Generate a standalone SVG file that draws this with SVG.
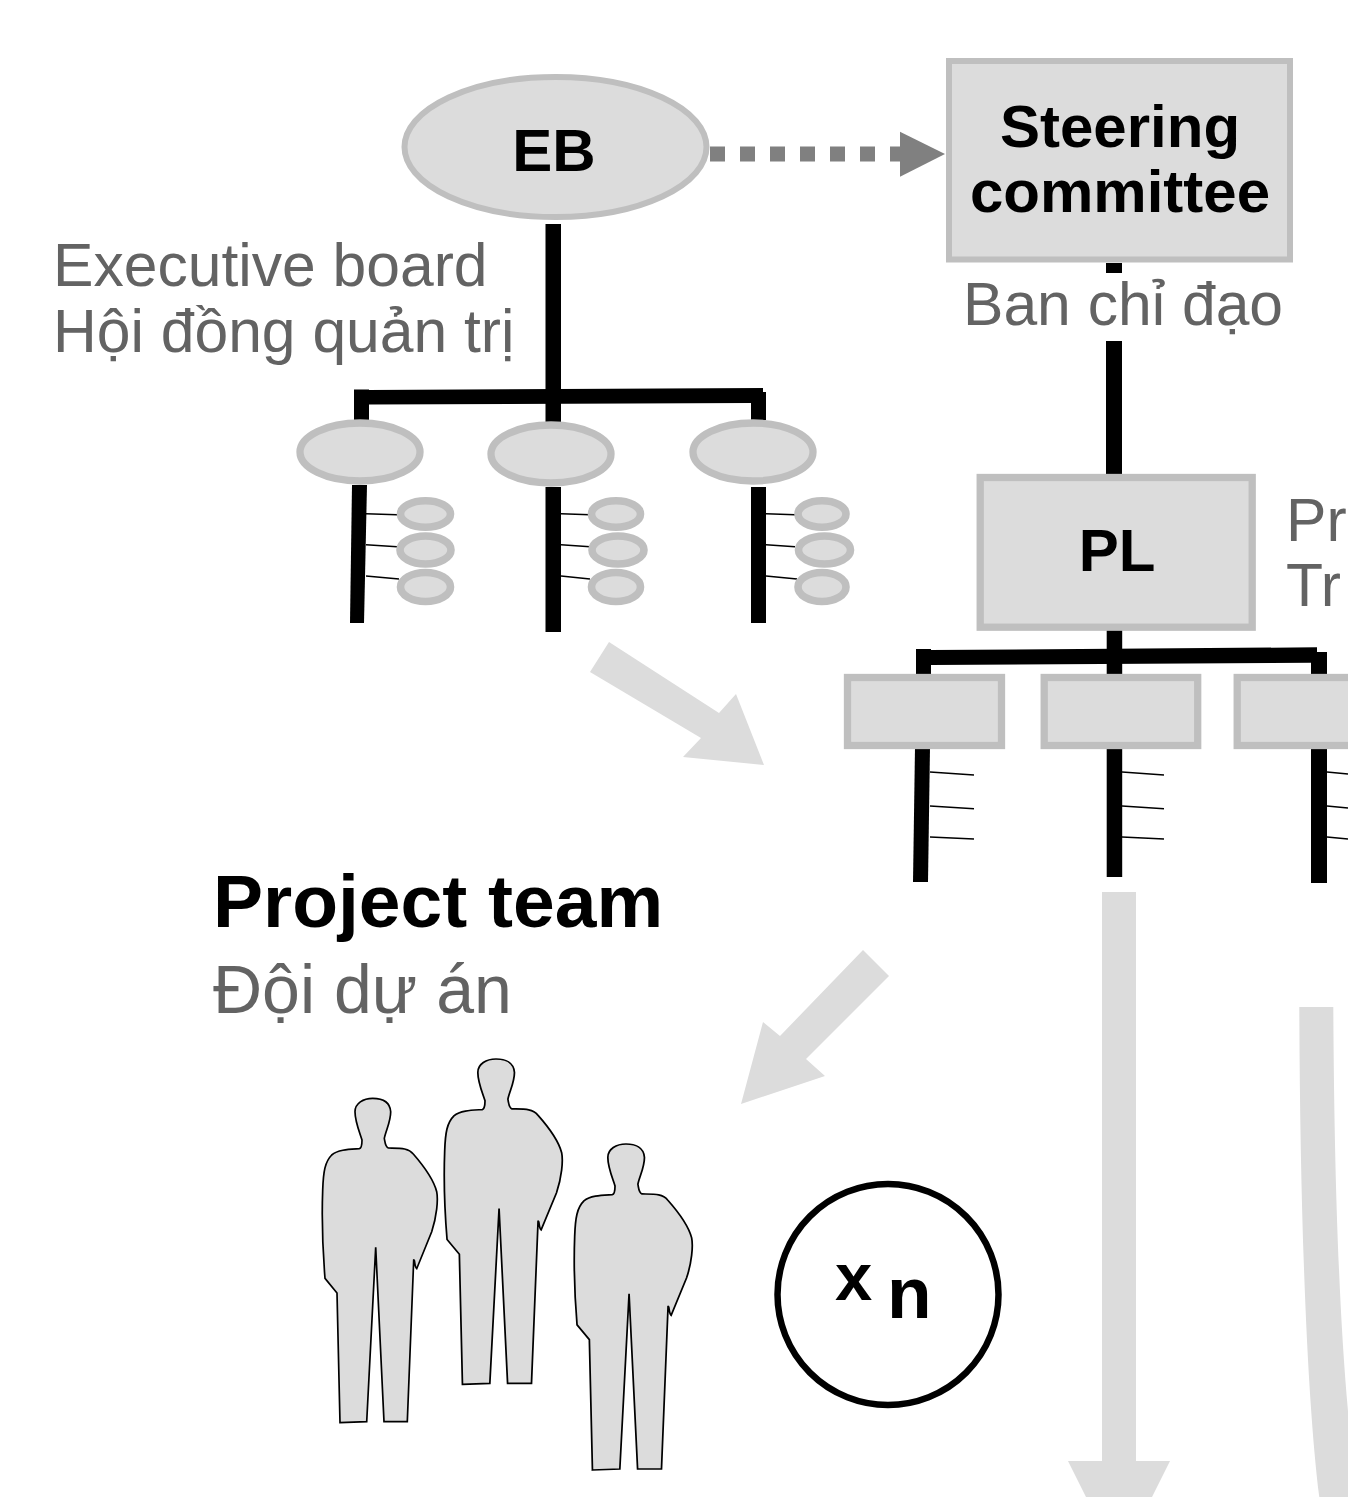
<svg xmlns="http://www.w3.org/2000/svg" width="1348" height="1497" viewBox="0 0 1348 1497">
<style>
text{font-family:"Liberation Sans",Arial,sans-serif;font-size:60px}
.b{font-weight:700;fill:#000}
.g{fill:#636363;font-size:60.6px}
.m{text-anchor:middle}
.n{fill:#dcdcdc;stroke:#bfbfbf;stroke-width:7.3}
.r{fill:#dcdcdc;stroke:#bfbfbf;stroke-width:6}
.s{fill:#dcdcdc;stroke:#bfbfbf;stroke-width:7.600}
.k{fill:#000;stroke:none}
.t{stroke:#000;stroke-width:1.5;fill:none}
.a{fill:#dcdcdc;stroke:none}
.p{fill:#dcdcdc;stroke:#000;stroke-width:1.700;stroke-linejoin:miter}
</style>
<defs>
<path id="person" d="M340,1422.7 L366.7,1421.7 L375.7,1247.3 L384,1421.7 L407.3,1421.7 L413.7,1260 C415,1259.3 414.3,1266.7 416.7,1268.7 L431.7,1231.7 C436.7,1216.7 438.3,1200 436.7,1191.7 C433.3,1178.3 420,1161.7 413.3,1154 C408.3,1147.7 400,1148.3 388.3,1148 C385,1146.7 385,1141.7 384.3,1138.3 C386,1130 390.7,1121.7 390.7,1111.7 C390,1101.7 381.7,1098.3 372.7,1098.3 C363.3,1098.3 355,1103.3 355,1111.7 C355,1121.7 360,1133.3 362,1140 C362,1145 361,1148.3 359.3,1148.7 C350,1149.3 338.3,1149.3 331.7,1155 C325,1161.7 323.3,1171.7 322.7,1190 C321.7,1216.7 322.7,1250 325,1278.3 L337,1293 Z"/>
</defs>
<g id="connectors">
<polygon class="a" points="609,642 719,713 736,694 764,765 683,757 701,738 590,672"/>
<polygon class="a" points="863,950 889,976 806,1059 825,1076 741,1104 763,1022 780,1036"/>
<polygon class="a" points="1102,892 1136,892 1136,1461 1170,1461 1152,1497 1086,1497 1068,1461 1102,1461"/>
<path class="a" d="M1299.3,1007 L1333.3,1007 C1334,1130 1337,1290 1348,1411 L1348,1497 L1319.3,1497 C1306,1390 1300,1200 1299.3,1007 Z"/>
<path d="M710,154 H900" fill="none" stroke="#808080" stroke-width="15" stroke-dasharray="15 15"/>
<polygon fill="#808080" points="900,131.700 945,154 900,176.700"/>
<rect class="k" x="545.500" y="224" width="15.500" height="180"/>
<polygon class="k" points="354,389.500 369,389.500 369,390 763,388 763,392 766,392 766,420 751,420 751,403 369,404.500 369,420 354,420"/>
<rect class="k" x="545.500" y="404" width="15.500" height="20"/>
<polygon class="k" points="352,485 367,485 364,623 350,623"/>
<rect class="k" x="545.500" y="487" width="15.500" height="145"/>
<rect class="k" x="751" y="487" width="15" height="136"/>
<path class="t" d="M366,513.700 L397,514.700 M366,544.700 L397,546.700 M366,576 L399,579"/>
<path class="t" d="M561,513.700 L590,514.700 M561,544.700 L590,546.700 M561,576 L590,579"/>
<path class="t" d="M766,513.700 L795,514.700 M766,544.700 L795,546.700 M766,576 L797,579"/>
<rect class="k" x="1106" y="263" width="16" height="10"/>
<rect class="k" x="1106" y="341" width="16" height="135"/>
<rect class="k" x="1106.700" y="630" width="15.500" height="46"/>
<polygon class="k" points="916,649 931,649 931,650 1317,647.300 1317,652 1327,652 1327,676 1311,676 1311,662.700 931,665 931,676 916,676"/>
<polygon class="k" points="915,747 930,747 928,882 913,882"/>
<rect class="k" x="1106.700" y="747" width="15.500" height="130"/>
<rect class="k" x="1311" y="747" width="16" height="136"/>
<path class="t" d="M930,772 L974,775 M930,806 L974,808.700 M930,837 L974,839"/>
<path class="t" d="M1122,772 L1164,775 M1122,806 L1164,808.700 M1122,837 L1164,839"/>
<path class="t" d="M1327,772 L1348,774 M1327,806 L1348,808 M1327,837 L1348,839"/>
</g>
<g id="eb"><ellipse class="r" cx="555.500" cy="147" rx="151" ry="70"/><text class="b m" x="554" y="171">EB</text></g>
<g id="steering"><rect class="r" x="949" y="61" width="341" height="198.500"/><text class="b m" x="1120" y="147">Steering</text><text class="b m" x="1120" y="212">committee</text></g>
<g id="eb-label"><text class="g" x="53" y="286">Executive board</text><text class="g" x="53" y="351.500">Hội đồng quản trị</text></g>
<text id="sc-label" class="g" x="963" y="325">Ban chỉ đạo</text>
<g id="eb-sub1"><ellipse class="n" cx="360" cy="452" rx="60" ry="29"/></g>
<g id="eb-sub2"><ellipse class="n" cx="551" cy="454" rx="60" ry="29"/></g>
<g id="eb-sub3"><ellipse class="n" cx="753" cy="452" rx="60" ry="29"/></g>
<g id="eb-small1"><ellipse class="s" cx="425.500" cy="514" rx="25" ry="13.300"/><ellipse class="s" cx="425.500" cy="550" rx="25.500" ry="14"/><ellipse class="s" cx="425.500" cy="587" rx="25" ry="14.500"/></g>
<g id="eb-small2"><ellipse class="s" cx="616" cy="514" rx="24.500" ry="13.300"/><ellipse class="s" cx="618" cy="550" rx="26" ry="14"/><ellipse class="s" cx="616" cy="587" rx="24.500" ry="14.500"/></g>
<g id="eb-small3"><ellipse class="s" cx="822" cy="514" rx="24" ry="13.300"/><ellipse class="s" cx="824.500" cy="550" rx="26" ry="14"/><ellipse class="s" cx="822" cy="587" rx="24" ry="14.500"/></g>
<g id="pl"><rect class="n" x="980.200" y="477.500" width="272" height="149.700"/><text class="b m" x="1117" y="571">PL</text></g>
<g id="pl-label"><text class="g" x="1286" y="540.500">Pr</text><text class="g" x="1286" y="605.700">Tr</text></g>
<g id="pl-sub1"><rect class="n" x="847.500" y="677.500" width="154" height="68"/></g>
<g id="pl-sub2"><rect class="n" x="1044.200" y="677.500" width="153.500" height="68"/></g>
<g id="pl-sub3"><rect class="n" x="1237.200" y="677.500" width="154" height="68"/></g>
<text id="team-title" class="b" x="213" y="926.500" style="font-size:75px">Project team</text>
<text id="team-label" class="g" x="213" y="1012.500" style="font-size:68px">Đội dự án</text>
<g id="people"><use class="p" href="#person"/><use class="p" href="#person" transform="translate(113.600,-42.600) scale(1.026,1.003)"/><use class="p" href="#person" transform="translate(243.600,40.200) scale(1.026,1.005)"/></g>
<g id="times-n"><circle cx="888" cy="1294.500" r="110.500" fill="#fff" stroke="#000" stroke-width="6.500"/><text class="b" x="835" y="1300" style="font-size:67px">x</text><text class="b" x="887" y="1318.300" style="font-size:73px">n</text></g>
</svg>
